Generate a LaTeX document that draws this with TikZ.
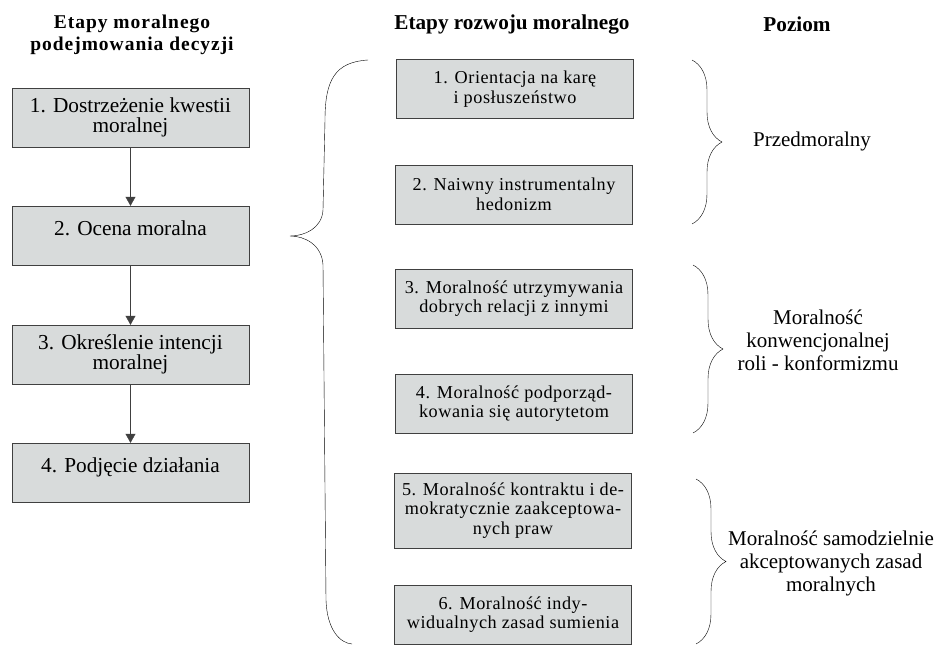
\documentclass[tikz,border=0pt]{standalone}
\usepackage{fontspec}
\setmainfont{Liberation Serif}
\newfontfamily\widefont{Liberation Serif}[LetterSpace=5]
\newfontfamily\spacedfont{Liberation Serif}[LetterSpace=3]
\usetikzlibrary{arrows.meta,decorations.pathreplacing}
\definecolor{boxgray}{RGB}{216,219,219}
\definecolor{edgegray}{RGB}{64,64,64}

\begin{document}
\begin{tikzpicture}[x=1pt,y=-1pt]
\tikzstyle{every node}=[inner sep=0pt,align=center]
\tikzstyle{head}=[font=\bfseries\fontsize{21.2}{22}\selectfont]
\tikzstyle{stage}=[draw=edgegray,fill=boxgray,minimum width=237pt,minimum height=59pt,
	font=\fontsize{21.3}{20.5}\selectfont]
\tikzstyle{phase}=[draw=edgegray,fill=boxgray,minimum width=237pt,minimum height=59pt,
	font=\spacedfont\fontsize{18.2}{19.5}\selectfont]
\tikzstyle{tier}=[font=\fontsize{21}{23}\selectfont]
\tikzstyle{flow}=[-{Triangle[length=9pt,width=10pt]},edgegray]
\tikzstyle{curly}=[decorate,decoration={brace,amplitude=30pt}]
\useasboundingbox (0,0) rectangle (939,646);
% naglowki
\node[head,font=\widefont\bfseries\fontsize{19.5}{22}\selectfont] (h1) at (132,35) {Etapy moralnego\\podejmowania decyzji};
\node[head] (h2) at (512,24) {Etapy rozwoju moralnego};
\node[head] (h3) at (797,24) {Poziom};
% decyzja
\node[stage] (d1) at (130.5,117.5) {1. Dostrzeżenie kwestii\\moralnej};
\node[stage,text depth=14pt] (d2) at (130.5,235.5) {2. Ocena moralna};
\node[stage] (d3) at (130.5,354.5) {3. Określenie intencji\\moralnej};
\node[stage,text depth=14pt] (d4) at (130.5,472.5) {4. Podjęcie działania};
\draw[flow] (d1) -- (d2);
\draw[flow] (d2) -- (d3);
\draw[flow] (d3) -- (d4);
% rozwoj
\node[phase] (r1) at (515,89) {1. Orientacja na karę\\i posłuszeństwo};
\node[phase] (r2) at (514,194.5) {2. Naiwny instrumentalny\\hedonizm};
\node[phase] (r3) at (514,298.5) {3. Moralność utrzymywania\\dobrych relacji z innymi};
\node[phase] (r4) at (514,403.5) {4. Moralność podporząd-\\kowania się autorytetom};
\node[phase,minimum height=75pt] (r5) at (513,510.5) {5. Moralność kontraktu i de-\\mokratycznie zaakceptowa-\\nych praw};
\node[phase] (r6) at (513,614.5) {6. Moralność indy-\\widualnych zasad sumienia};
% klamra
\coordinate (bt) at (368,60);
\coordinate (bm) at (290,236);
\coordinate (bb) at (352,644);
\draw (bt) .. controls (335,62) and (325,80) .. (325,120) -- (323,210)
	.. controls (322,228) and (305,236) .. (bm)
	.. controls (305,236) and (322,245) .. (323,265) -- (326,600)
	.. controls (327,630) and (340,643) .. (bb);
% poziomy
\draw[curly] (692,60) -- (692,224);
\draw[curly] (693,265) -- (693,433);
\draw[curly] (696,479) -- (696,644);
\node[tier] (p1) at (812,141) {Przedmoralny};
\node[tier] (p2) at (818,340) {Moralność\\konwencjonalnej\\roli - konformizmu};
\node[tier] (p3) at (831,563) {Moralność samodzielnie\\akceptowanych zasad\\moralnych};
\end{tikzpicture}
\end{document}
